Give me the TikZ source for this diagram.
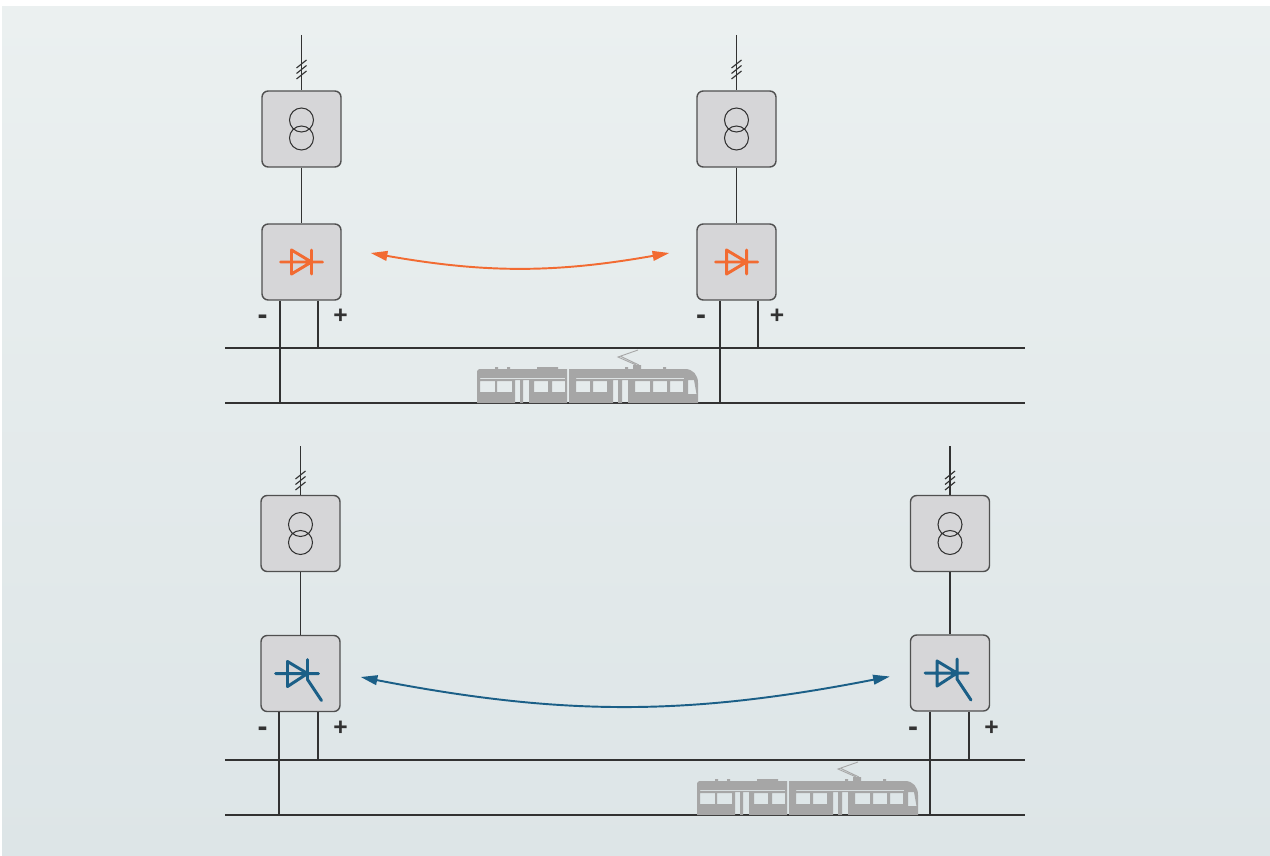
\documentclass[tikz,border=0pt]{standalone}
\usepackage{fontspec}
\setmainfont{Liberation Sans}
\usetikzlibrary{arrows.meta, positioning, calc}
\definecolor{rectcolor}{RGB}{242,107,50}
\definecolor{invcolor}{RGB}{27,95,135}
\definecolor{unitfill}{RGB}{214,214,216}
\definecolor{unitdraw}{RGB}{80,80,80}
\definecolor{wirecolor}{RGB}{50,50,50}
\definecolor{tramcolor}{RGB}{166,166,166}
\definecolor{bgtop}{RGB}{235,240,240}
\definecolor{bgbottom}{RGB}{221,229,231}

\tikzset{
  % transformer: two overlapping windings
  pics/xfmr/.style={code={
    \draw[wirecolor, line width=0.6pt] (0,-9) circle[radius=12] (0,9) circle[radius=12];
  }},
  % rectifier diode
  pics/diode/.style={code={
    \draw[symbol] (-21,0) -- (21,0) (-10,-12) -- (10,0) -- (-10,12) -- cycle (10,-12) -- (10,12);
  }},
  % thyristor with gate
  pics/thyristor/.style={code={
    \draw[symbol] (-25,0) -- (18,0) (-13,-12) -- (7,0) -- (-13,13) -- cycle (7,-14) -- (7,6) -- (21,27);
  }},
  % tram, origin at the rear wheel line
  pics/tram/.style={code={
    \fill[tramcolor, even odd rule]
      % rear car
      (0,0) -- (0,-32) -- (2,-34) -- (90,-34) -- (90,0) -- cycle
      (18,-36) rectangle (21,-34) (30,-36) rectangle (33,-34) (60,-36) rectangle (81,-34)
      (3,-25) rectangle (88,-24)
      (3,-22) rectangle (18,-11) (20,-22) rectangle (35,-11)
      (38,-23) rectangle (43,0) (46,-23) rectangle (52,0)
      (57,-22) rectangle (71,-11) (75,-22) rectangle (88,-11)
      % front car
      (92,0) -- (92,-34) -- (208,-34) .. controls (216,-34) and (221,-28) .. (221,-20) -- (221,0) -- cycle
      (148,-36) rectangle (151,-34) (186,-36) rectangle (189,-34) (156,-38) rectangle (164,-34)
      (99,-25) rectangle (207,-24)
      (99,-22) rectangle (113,-11) (116,-22) rectangle (130,-11)
      (136,-23) rectangle (141,0) (145,-23) rectangle (151,0)
      (158,-22) rectangle (173,-11) (176,-22) rectangle (190,-11) (193,-22) rectangle (206,-11)
      (211,-23) -- (217,-23) -- (219.5,-9) -- (211,-9) -- cycle;
    % pantograph
    \draw[tramcolor, line width=0.5pt] (159,-38) -- (141,-46) -- (161,-53) (162,-38) -- (144,-46.5);
  }},
}

\begin{document}
\begin{tikzpicture}[
    x=0.02cm, y=-0.02cm,
    unit/.style={draw=unitdraw, line width=0.8pt, fill=unitfill, rounded corners=3.5pt, minimum width=1.58cm, minimum height=1.52cm, inner sep=0pt},
    wire/.style={draw=wirecolor, line width=0.65pt},
    rail/.style={draw=wirecolor, line width=0.7pt},
    pole/.style={font=\bfseries\fontsize{14}{14}\selectfont, text=wirecolor, inner sep=0pt},
    minus/.style={pole, font=\bfseries\fontsize{17}{17}\selectfont},
    symbol/.style={line width=1.7pt, line cap=round, line join=round},
    flow/.style={{Triangle[length=9.5pt,width=5.5pt]}-{Triangle[length=9.5pt,width=5.5pt]}, line width=1.1pt}
]
    % Background
    \useasboundingbox (0,0) rectangle (1270,855);
    \fill[white] (0,0) rectangle (1270,855);
    \shade[top color=bgtop, bottom color=bgbottom] (2,7) rectangle (1270,855);

    % Upper line: diode rectifiers
    \node[unit] (trafo1) at (301.5,129) {};
    \node[unit] (rect1) at (301.5,262) {};
    \node[unit] (trafo2) at (736.5,129) {};
    \node[unit] (rect2) at (736.5,262) {};
    \pic at (trafo1) {xfmr};
    \pic at (trafo2) {xfmr};
    \pic[rectcolor] at (rect1) {diode};
    \pic[rectcolor] at (rect2) {diode};

    % Lower line: thyristor inverters
    \node[unit] (trafo3) at (300.5,533.5) {};
    \node[unit] (inv1) at (300.5,673.5) {};
    \node[unit] (trafo4) at (950,533.5) {};
    \node[unit] (inv2) at (950,673) {};
    \pic at (trafo3) {xfmr};
    \pic at (trafo4) {xfmr};
    \pic[invcolor] at (inv1) {thyristor};
    \pic[invcolor] at (inv2) {thyristor};

    % AC feeders
    \coordinate (feed1) at (301.5,35);
    \coordinate (feed2) at (736.5,35);
    \coordinate (feed3) at (300.5,446);
    \coordinate (feed4) at (950,446);
    \foreach \f/\t in {feed1/trafo1, feed2/trafo2, feed3/trafo3, feed4/trafo4} {
        \draw[wire] (\f) -- (\t);
        \foreach \k in {0,5.5,11}
            \draw[wire] ($(\f)+(-5,33+\k)$) -- ++(10,-8);
    }
    \draw[wire] (trafo1) -- (rect1);
    \draw[wire] (trafo2) -- (rect2);
    \draw[wire] (trafo3) -- (inv1);
    \draw[wire] (trafo4) -- (inv2);

    % Contact line and running rail
    \coordinate (wireL1) at (225,348); \coordinate (wireR1) at (1025,348);
    \coordinate (trackL1) at (225,403); \coordinate (trackR1) at (1025,403);
    \coordinate (wireL2) at (225,760); \coordinate (wireR2) at (1025,760);
    \coordinate (trackL2) at (225,815); \coordinate (trackR2) at (1025,815);
    \draw[rail] (wireL1) -- (wireR1);
    \draw[rail] (trackL1) -- (trackR1);
    \draw[rail] (wireL2) -- (wireR2);
    \draw[rail] (trackL2) -- (trackR2);

    % DC terminals
    \coordinate (neg1) at (280,403);  \coordinate (pos1) at (318,348);
    \coordinate (neg2) at (720,403);  \coordinate (pos2) at (758,348);
    \coordinate (neg3) at (279,815);  \coordinate (pos3) at (318,760);
    \coordinate (neg4) at (930,815);  \coordinate (pos4) at (969,760);
    \foreach \u/\n/\p in {rect1/neg1/pos1, rect2/neg2/pos2, inv1/neg3/pos3, inv2/neg4/pos4} {
        \draw[wire] (\n |- \u.south) -- (\n);
        \draw[wire] (\p |- \u.south) -- (\p);
    }
    \node[minus] (minus1) at (262.5,320) {-};
    \node[pole] (plus1) at (340.5,316) {+};
    \node[minus] (minus2) at (701,320) {-};
    \node[pole] (plus2) at (777,316) {+};
    \node[minus] (minus3) at (262.5,732) {-};
    \node[pole] (plus3) at (340.5,728) {+};
    \node[minus] (minus4) at (913,732) {-};
    \node[pole] (plus4) at (991.5,728) {+};

    % Trams
    \pic at (477,403) {tram};
    \pic at (697,815) {tram};

    % Energy exchange
    \draw[flow, rectcolor] ($(rect1.east)+(29,-9)$) to[bend right=10] ($(rect2.west)+(-27,-9)$);
    \draw[flow, invcolor] ($(inv1.east)+(20,3.5)$) to[bend right=11] ($(inv2.west)+(-20,3.5)$);
\end{tikzpicture}
\end{document}
